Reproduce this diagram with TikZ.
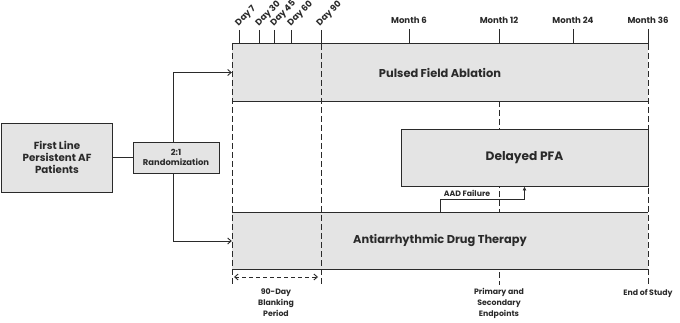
\documentclass[tikz,border=0pt]{standalone}
\usepackage{graphicx}
\usepackage{fontspec}
\setmainfont{Poppins}
\usetikzlibrary{arrows.meta}
\definecolor{boxfill}{HTML}{E4E4E4}
\definecolor{ink}{HTML}{2A2A2A}
\begin{document}
\begin{tikzpicture}[x=1pt,y=-1pt,
  ln/.style={ink, line width=0.9pt},
  dsh/.style={ink, line width=0.9pt, dash pattern=on 6pt off 3pt},
  phase/.style={fill=boxfill, inner sep=0pt, font=\bfseries\fontsize{11.4}{13}\selectfont, text=ink},
  small/.style={font=\bfseries\fontsize{7.8}{11}\selectfont, text=ink, align=center, inner sep=0pt},
  monthlab/.style={small, font=\bfseries\fontsize{8.6}{11}\selectfont},
  daylab/.style={font=\bfseries\fontsize{8.8}{10}\selectfont, text=ink, inner sep=0pt, anchor=south west},
  openarrow/.style={ln, -{Straight Barb[length=3.5pt,width=6pt]}},
  fillarrow/.style={ln, -{Latex[length=4pt,width=4pt]}}]
\useasboundingbox (0,0) rectangle (680,323);

% dashed line behind boxes at month 12
\coordinate (m12top) at (499,101);
\coordinate (m12bot) at (499,285);
\draw[dsh] (m12top) -- (m12bot);

% phase boxes
\node[phase, minimum width=416pt, minimum height=57pt] (pfa) at (440,72.5) {Pulsed Field Ablation};
\draw[ln] (pfa.north west) -- (pfa.north east);
\draw[ln] (pfa.south west) -- (pfa.south east);

\node[phase, draw=ink, line width=0.9pt, minimum width=247pt, minimum height=57pt,
      font=\bfseries\fontsize{12.2}{14}\selectfont] (dpfa) at (524.5,157.5) {Delayed PFA};

\node[phase, minimum width=416pt, minimum height=56pt] (aad) at (440,241) {Antiarrhythmic Drug Therapy};
\draw[ln] (aad.north west) -- (aad.north east);
\draw[ln] (aad.south west) -- (aad.south east);

% dashed verticals
\coordinate (d0top) at (232,44);  \coordinate (d0bot) at (232,285);
\coordinate (d90top) at (321,44); \coordinate (d90bot) at (321,285);
\coordinate (m36top) at (648,44); \coordinate (m36bot) at (648,285);
\draw[dsh] (d0top) -- (d0bot);
\draw[dsh] (d90top) -- (d90bot);
\draw[dsh] (m36top) -- (m36bot);

% ticks
\foreach \n/\x in {d7/239,d30/259,d45/274,d60/291,d90/321}{
  \coordinate (\n a) at (\x,30); \coordinate (\n b) at (\x,44);
  \draw[ln] (\n a) -- (\n b);
}
\foreach \n/\x in {m6/409,m12/499,m24/573,m36/648}{
  \coordinate (\n a) at (\x,29); \coordinate (\n b) at (\x,44);
  \draw[ln] (\n a) -- (\n b);
}
% day labels (rotated 45 degrees)
\node[daylab] (l7)  at (234,28) {\rotatebox{45}{Day 7}};
\node[daylab] (l30) at (254,28) {\rotatebox{45}{Day 30}};
\node[daylab] (l45) at (269,28) {\rotatebox{45}{Day 45}};
\node[daylab] (l60) at (286,28) {\rotatebox{45}{Day 60}};
\node[daylab] (l90) at (315,28) {\rotatebox{45}{Day 90}};
% month labels
\node[monthlab] (lm6)  at (409,20) {Month 6};
\node[monthlab] (lm12) at (499,20) {Month 12};
\node[monthlab] (lm24) at (573,20) {Month 24};
\node[monthlab] (lm36) at (648,20) {Month 36};

% patients and randomization
\node[draw=ink, line width=0.9pt, fill=boxfill, minimum width=111pt, minimum height=69pt, align=center, inner sep=0pt,
      font=\bfseries\fontsize{10.3}{12}\selectfont, text=ink] (first) at (57,157.5) {First Line\\Persistent AF\\Patients};
\node[draw=ink, line width=0.9pt, fill=boxfill, minimum width=86pt, minimum height=31pt, align=center, inner sep=0pt,
      font=\bfseries\fontsize{8.4}{10}\selectfont, text=ink] (rand) at (176,157.5) {2:1\\Randomization};
\draw[ln] (first.east) -- (rand.west);
\draw[openarrow] ([xshift=-3pt]rand.north) |- (pfa.west);
\draw[openarrow] ([xshift=-3pt]rand.south) |- (aad.west);

% AAD failure
\coordinate (aadf) at (440,213);
\draw[fillarrow] (aadf) -- ([yshift=14pt]aadf) -| (dpfa.south);
\node[small, anchor=south] (aadlab) at (467,197) {AAD Failure};

% blanking period
\coordinate (bl) at (234,277); \coordinate (br) at (318,277);
\draw[dsh, dash pattern=on 4pt off 3pt, {Straight Barb[length=3.5pt,width=6pt]}-{Straight Barb[length=3.5pt,width=6pt]}] (bl) -- (br);
\node[small] (blank) at (276,303) {90-Day\\Blanking\\Period};
\node[small] (endp) at (499,303) {Primary and\\Secondary\\Endpoints};
\node[small] (eos) at (648,293.5) {End of Study};
\end{tikzpicture}
\end{document}
